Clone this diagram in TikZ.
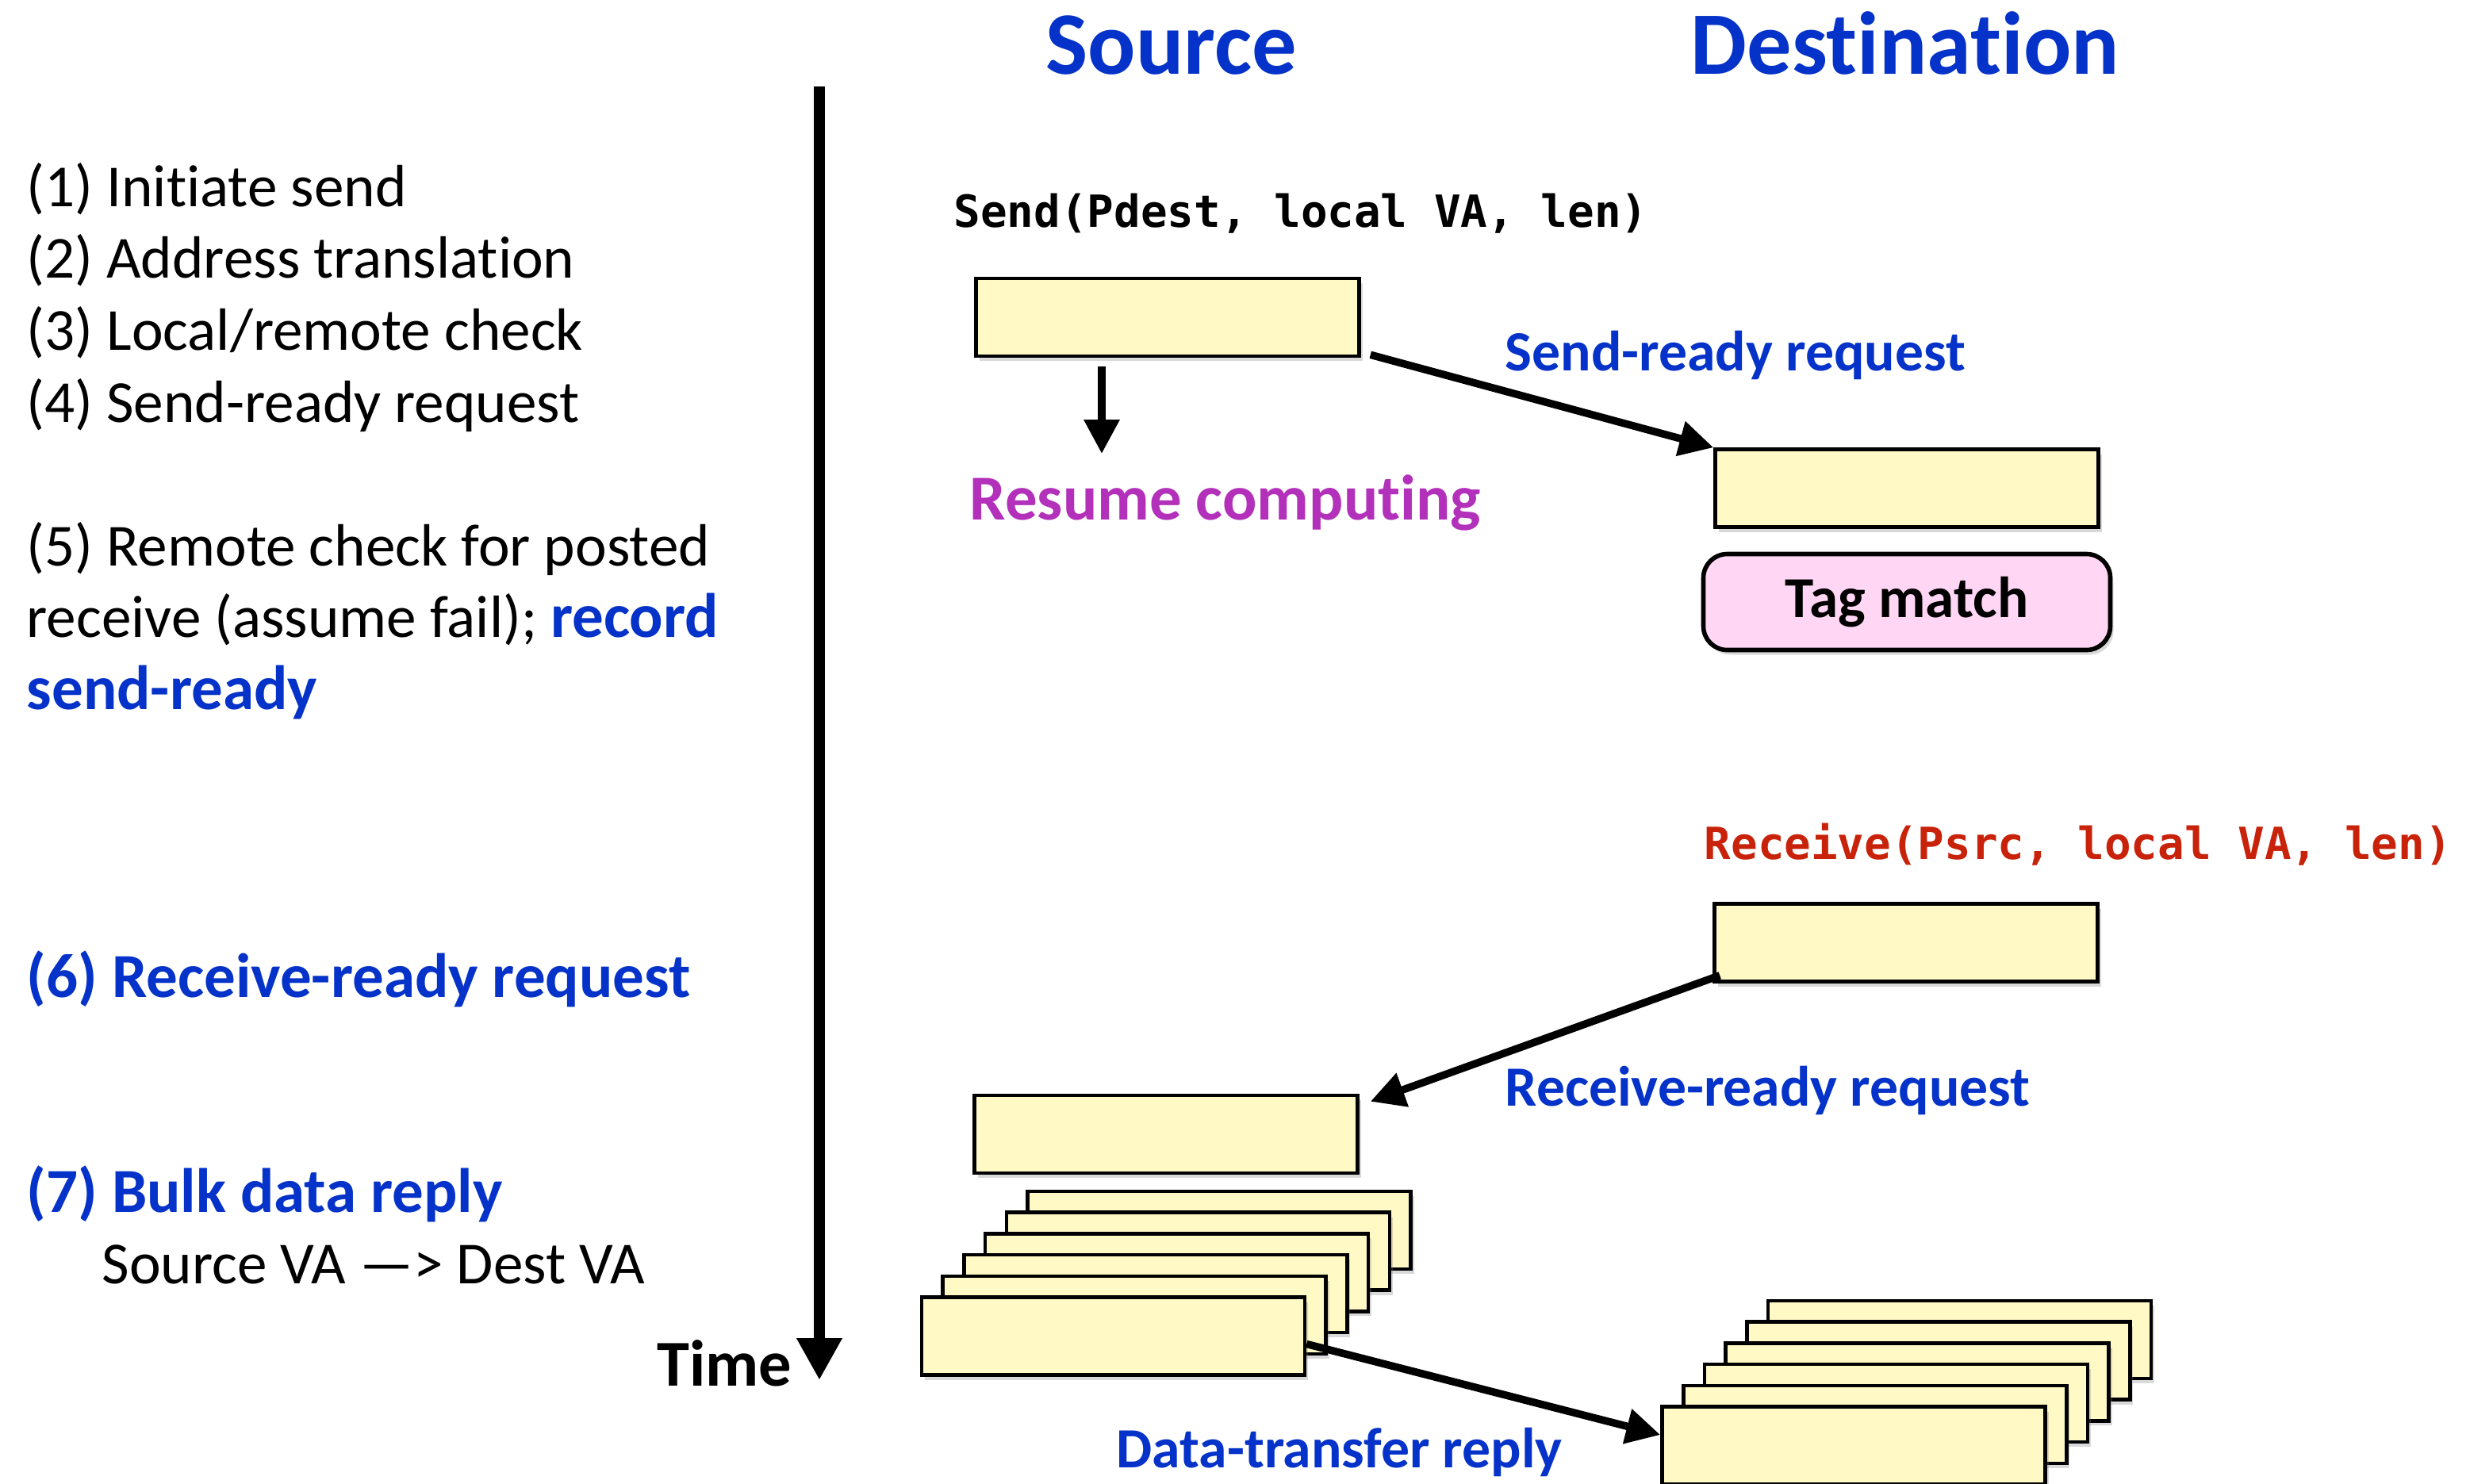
\documentclass[tikz,border=0pt]{standalone}
\usepackage{fontspec}
\setmainfont{Carlito}[Ligatures={TeX,NoCommon}]
\setmonofont{DejaVu Sans Mono}
\usetikzlibrary{arrows.meta,shadows}

\definecolor{hdblue}{RGB}{5,50,200}
\definecolor{resumemag}{RGB}{178,48,186}
\definecolor{recvred}{RGB}{200,35,10}
\definecolor{boxyellow}{RGB}{255,249,197}
\definecolor{tagpink}{RGB}{255,214,244}

\tikzset{
  membox/.style={draw, line width=1.3pt, fill=boxyellow, inner sep=0pt,
    minimum width=4.83cm, minimum height=0.98cm,
    drop shadow={opacity=0.3, shadow xshift=0.04cm, shadow yshift=-0.06cm}},
  tagbox/.style={draw, line width=1.6pt, fill=tagpink, rounded corners=0.3cm,
    minimum width=5.13cm, minimum height=1.21cm, inner sep=0pt,
    font=\fontsize{20.8}{25}\selectfont\bfseries,
    drop shadow={opacity=0.3, shadow xshift=0.04cm, shadow yshift=-0.06cm}},
  msg/.style={-{Triangle[length=4.3mm,width=4.3mm]}, line width=2.7pt},
  timeline/.style={-{Triangle[length=5.3mm,width=5.4mm]}, line width=4pt},
  note/.style={anchor=base west, inner sep=0pt, font=\fontsize{21.4}{26}\selectfont},
  bnote/.style={note, text=hdblue, font=\fontsize{22.5}{26}\selectfont\bfseries},
  lbl/.style={anchor=base west, inner sep=0pt, text=hdblue, font=\fontsize{20.4}{24}\selectfont\bfseries},
  code/.style={anchor=base west, inner sep=0pt, font=\fontsize{15.9}{19}\selectfont\ttfamily\bfseries},
  title/.style={anchor=base west, inner sep=0pt, text=hdblue, font=\fontsize{32}{38}\selectfont\bfseries}
}

\begin{document}
\begin{tikzpicture}
\useasboundingbox (0,0) rectangle (31.14,-18.70);

\node[title] (src) at (13.18,-0.93) {Source};
\node[title] (dst) at (21.31,-0.93) {Destination};

\coordinate (t0) at (10.33,-1.09);
\coordinate (t1) at (10.33,-17.40);
\draw[timeline] (t0) -- (t1);
\node[anchor=base east, inner sep=0pt, font=\fontsize{23.5}{28}\selectfont\bfseries] (time) at (9.99,-17.47) {Time};

\node[note] (n1) at (0.33,-2.60) {(1) Initiate send};
\node[note] (n2) at (0.33,-3.50) {(2) Address translation};
\node[note] (n3) at (0.33,-4.41) {(3) Local/remote check};
\node[note] (n4) at (0.33,-5.32) {(4) Send-ready request};
\node[note] (n5) at (0.33,-7.13) {(5) Remote check for posted};
\node[note] (n5b) at (0.33,-8.03) {receive (assume fail); \textcolor{hdblue}{\fontsize{22.5}{26}\selectfont\bfseries record}};
\node[bnote] (n5c) at (0.33,-8.94) {send-ready};
\node[bnote] (n6) at (0.33,-12.57) {(6) Receive-ready request};
\node[bnote] (n7) at (0.33,-15.28) {(7) Bulk data reply};
\node[note] (n7b) at (1.28,-16.18) {Source VA —> Dest VA};

\node[code] (sendc) at (12.02,-2.86) {Send(Pdest, local VA, len)};
\node[membox] (s1) at (14.72,-4.00) {};
\coordinate (rc) at (13.89,-5.72);
\draw[msg] ([xshift=-0.83cm,yshift=-0.11cm]s1.south) -- (rc);
\node[anchor=base west, inner sep=0pt, text=resumemag, font=\fontsize{23}{27}\selectfont\bfseries] (resume) at (12.22,-6.55) {Resume computing};

\node[membox] (d1) at (24.04,-6.155) {};
\draw[msg] ([xshift=0.12cm,yshift=0.04cm]s1.south east) -- (d1.north west);
\node[lbl] (sr) at (18.97,-4.67) {Send-ready request};
\node[tagbox] (tag) at (24.04,-7.59) {Tag match};

\node[code, text=recvred] (recvc) at (21.48,-10.83) {Receive(Psrc, local VA, len)};
\node[membox] (d2) at (24.03,-11.885) {};
\node[membox] (s2) at (14.70,-14.30) {};
\draw[msg] ([xshift=0.09cm,yshift=0.1cm]d2.south west) -- ([xshift=0.14cm,yshift=-0.1cm]s2.north east);
\node[lbl] (rr) at (18.97,-13.94) {Receive-ready request};

\foreach \i in {5,4,...,0} {
  \node[membox] (ss\i) at ({14.035+0.267*\i},{-16.845+0.267*\i}) {};
  \node[membox] (ds\i) at ({23.37+0.267*\i},{-18.225+0.267*\i}) {};
}
\draw[msg] ([yshift=-0.1cm]ss0.east) -- ([yshift=0.135cm]ds0.west);
\node[lbl] (dt) at (14.07,-18.50) {Data-transfer reply};
\end{tikzpicture}
\end{document}
